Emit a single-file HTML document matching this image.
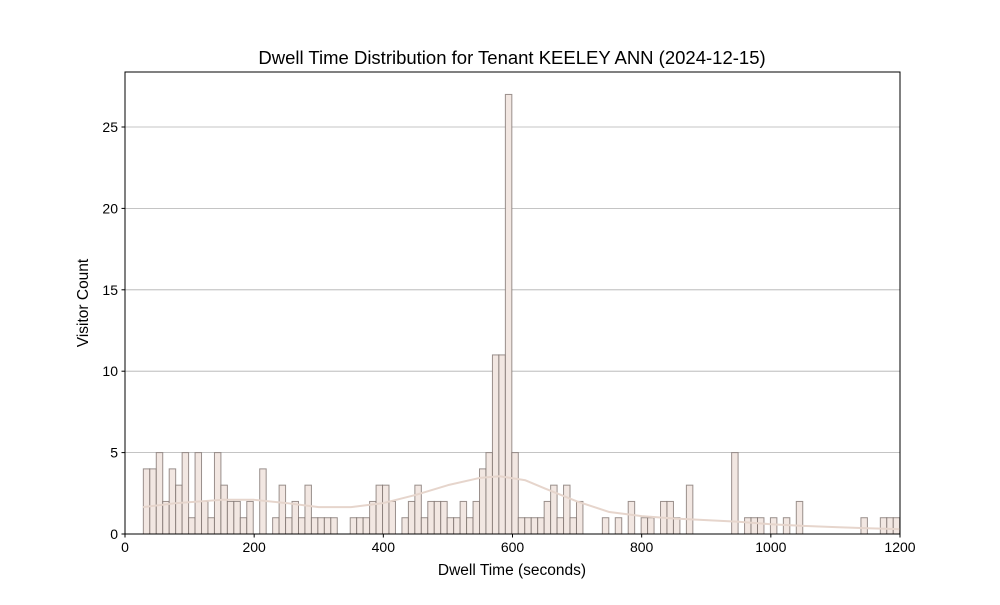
<!DOCTYPE html>
<html><head><meta charset="utf-8"><style>
body{margin:0;background:#fff;font-family:"Liberation Sans","DejaVu Sans",sans-serif}
svg text{font-family:"Liberation Sans","DejaVu Sans",sans-serif;fill:#000}
</style></head><body>
<svg id="chart" width="1000" height="600">
<text x="512" y="64" text-anchor="middle" font-size="18.5">Dwell Time Distribution for Tenant KEELEY ANN (2024-12-15)</text>
<g id="grid"></g><g id="bars"></g><g id="kde"></g><g id="axes"></g>
<text x="512" y="575" text-anchor="middle" font-size="15.5">Dwell Time (seconds)</text>
<text transform="translate(88,303) rotate(-90)" text-anchor="middle" font-size="15.5">Visitor Count</text>
</svg>
<script>
const binStart = 28.4;
const binWidth = 10.01;
const counts = [4,4,5,2,4,3,5,1,5,2,1,5,3,2,2,1,2,0,4,0,1,3,1,2,1,3,1,1,1,1,0,0,1,1,1,2,3,3,2,0,1,2,3,1,2,2,2,1,1,2,1,2,4,5,11,11,27,5,1,1,1,1,2,3,1,3,1,2,0,0,0,1,0,1,0,2,0,1,1,0,2,2,1,0,3,0,0,0,0,0,0,5,0,1,1,1,0,1,0,1,0,2,0,0,0,0,0,0,0,0,0,1,0,0,1,1,1];
const kdeX = [28,80,150,200,250,300,350,400,450,500,550,580,620,650,700,750,800,850,900,950,1000,1050,1100,1150,1200];
const kdeY = [1.65,1.9,2.1,2.1,1.9,1.65,1.65,1.9,2.4,3.0,3.45,3.55,3.3,2.8,2.0,1.35,1.1,0.95,0.85,0.75,0.6,0.5,0.42,0.35,0.3];
const xTicks = [0,200,400,600,800,1000,1200];
const yTicks = [0,5,10,15,20,25];
const L=125,R=900,T=72,B=534;
const xs=v=>L+(v-0)/1200*(R-L);
const ys=v=>B-v*(B-127)/25;
const NS="http://www.w3.org/2000/svg";
function mk(tag,attrs,parent){const e=document.createElementNS(NS,tag);for(const k in attrs)e.setAttribute(k,attrs[k]);parent.appendChild(e);return e;}
const grid=document.getElementById('grid'),bars=document.getElementById('bars'),kde=document.getElementById('kde'),axes=document.getElementById('axes');
yTicks.forEach(t=>{
  if(t>0){const g=mk('line',{x1:L,x2:R,y1:ys(t),y2:ys(t),stroke:'#b0b0b0','stroke-width':0.8},grid);
  
  }
  const tk=mk('line',{x1:L-3.5,x2:L,y1:ys(t),y2:ys(t),stroke:'#000'},axes);
  
  
  const tx=mk('text',{x:L-7,y:ys(t)+5,'text-anchor':'end','font-size':14},axes);tx.textContent=t;
  
  
});
xTicks.forEach(t=>{
  const tk=mk('line',{x1:xs(t),x2:xs(t),y1:B,y2:B+3.5,stroke:'#000'},axes);
  
  
  const tx=mk('text',{x:xs(t),y:B+18,'text-anchor':'middle','font-size':14},axes);tx.textContent=t;
  
  
});
const clip=mk('clipPath',{id:'pc'},document.getElementById('chart'));mk('rect',{x:L,y:T,width:R-L,height:B-T},clip);
bars.setAttribute('clip-path','url(#pc)');
counts.forEach((c,i)=>{
  if(c<=0)return;
  const x0=binStart+i*binWidth,x1=x0+binWidth;
  const r=mk('rect',{x:xs(x0),y:ys(c),width:xs(x1)-xs(x0),height:ys(0)-ys(c),fill:'#f2e7e2',stroke:'#7a6e6a','stroke-opacity':0.75,'stroke-width':1},bars);
  
  
});
let d='';kdeX.forEach((x,i)=>{d+=(i?'L':'M')+xs(x)+','+ys(kdeY[i]);});
const p=mk('path',{d:d,fill:'none',stroke:'#e6d5cc','stroke-width':2,'stroke-linejoin':'round'},kde);


const f=mk('rect',{x:L,y:T,width:R-L,height:B-T,fill:'none',stroke:'#000','stroke-width':1},axes);


</script>
</body></html>
